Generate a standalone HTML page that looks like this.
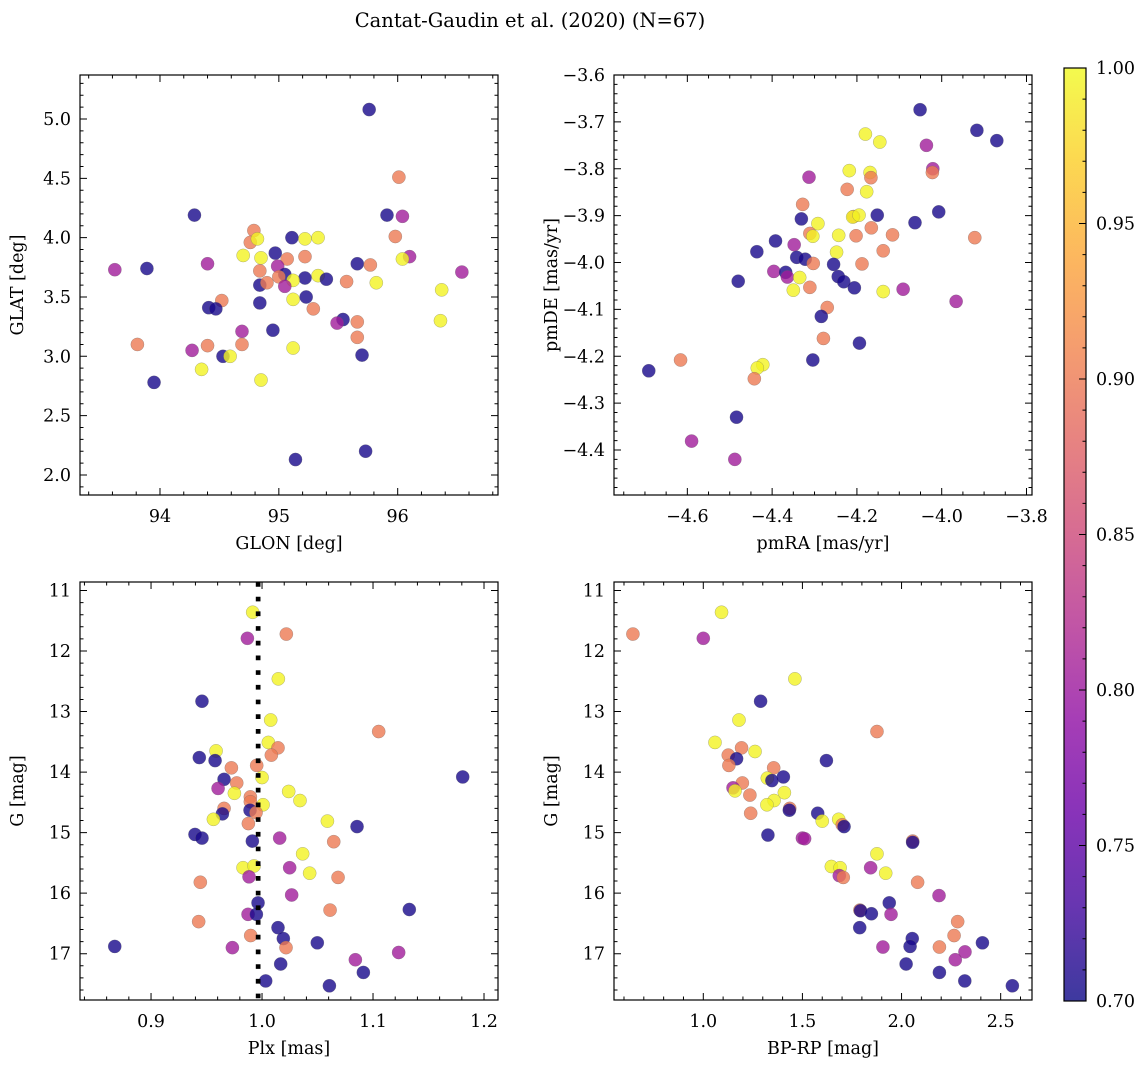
<!DOCTYPE html>
<html><head><meta charset="utf-8"><style>
html,body{margin:0;padding:0;background:#fff;}
svg text{font-family:"DejaVu Serif","Liberation Serif",serif;fill:#000;}
</style></head><body>
<svg id="fig" width="1148" height="1068" viewBox="0 0 1148 1068" xmlns="http://www.w3.org/2000/svg">
<rect width="1148" height="1068" fill="#fff"/>
<text x="530" y="27" font-size="19.5" text-anchor="middle">Cantat-Gaudin et al. (2020) (N=67)</text>
<defs>
<linearGradient id="plasmaGrad" x1="0" y1="1" x2="0" y2="0">
<stop offset="0" stop-color="#0d0887" stop-opacity="0.8"/><stop offset="0.1" stop-color="#41049d" stop-opacity="0.8"/>
<stop offset="0.2" stop-color="#6a00a8" stop-opacity="0.8"/><stop offset="0.3" stop-color="#8f0da4" stop-opacity="0.8"/>
<stop offset="0.4" stop-color="#b12a90" stop-opacity="0.8"/><stop offset="0.5" stop-color="#cc4778" stop-opacity="0.8"/>
<stop offset="0.6" stop-color="#e16462" stop-opacity="0.8"/><stop offset="0.7" stop-color="#f2844b" stop-opacity="0.8"/>
<stop offset="0.8" stop-color="#fca636" stop-opacity="0.8"/><stop offset="0.9" stop-color="#fcce25" stop-opacity="0.8"/>
<stop offset="1" stop-color="#f0f921" stop-opacity="0.8"/>
</linearGradient>
</defs>
</svg>
<script>
// ---- data ----
const glon=[95.76,96.01,94.29,95.91,96.04,94.79,95.11,95.22,95.33,95.98,94.76,94.82,94.97,94.70,94.85,95.07,95.22,96.10,96.04,94.40,94.84,94.99,95.66,95.77,93.62,93.89,96.54,95.05,95.33,95.00,95.22,95.40,94.84,94.90,95.12,95.05,95.57,95.82,96.37,95.23,95.12,94.52,94.41,94.47,94.84,95.29,95.54,95.49,95.66,96.36,95.66,94.69,94.95,93.81,94.40,94.69,94.27,94.53,94.59,95.12,95.70,94.35,93.95,94.85,95.73,95.14];
const glat=[5.08,4.51,4.19,4.19,4.18,4.06,4.00,3.99,4.00,4.01,3.96,3.99,3.87,3.85,3.83,3.82,3.84,3.84,3.82,3.78,3.72,3.76,3.78,3.77,3.73,3.74,3.71,3.69,3.68,3.67,3.66,3.65,3.60,3.62,3.64,3.59,3.63,3.62,3.56,3.50,3.48,3.47,3.41,3.40,3.45,3.40,3.31,3.28,3.29,3.30,3.16,3.21,3.22,3.10,3.09,3.10,3.05,3.00,3.00,3.07,3.01,2.89,2.78,2.80,2.20,2.13];
const probGal=[0.705,0.9,0.705,0.705,0.805,0.9,0.705,0.995,0.995,0.9,0.9,0.995,0.705,0.995,0.995,0.9,0.9,0.805,0.995,0.805,0.9,0.805,0.705,0.9,0.805,0.705,0.805,0.705,0.995,0.9,0.705,0.705,0.705,0.9,0.995,0.805,0.9,0.995,0.995,0.705,0.995,0.9,0.705,0.705,0.705,0.9,0.705,0.805,0.9,0.995,0.9,0.805,0.705,0.9,0.9,0.9,0.805,0.705,0.995,0.995,0.705,0.995,0.705,0.995,0.705,0.705];

const pmra=[-4.051,-3.917,-3.870,-4.180,-4.146,-4.036,-4.021,-4.022,-4.313,-4.218,-4.169,-4.167,-4.177,-4.223,-4.328,-4.331,-4.292,-4.152,-4.208,-4.210,-4.195,-4.063,-4.007,-3.922,-4.311,-4.304,-4.243,-4.202,-4.166,-4.116,-4.392,-4.436,-4.348,-4.248,-4.138,-4.342,-4.322,-4.303,-4.255,-4.188,-4.396,-4.368,-4.364,-4.335,-4.480,-4.350,-4.311,-4.244,-4.231,-4.206,-4.138,-4.091,-3.966,-4.270,-4.284,-4.279,-4.194,-4.304,-4.616,-4.691,-4.422,-4.435,-4.442,-4.484,-4.590,-4.488];
const pmde=[-3.674,-3.718,-3.740,-3.726,-3.743,-3.750,-3.800,-3.808,-3.818,-3.804,-3.808,-3.819,-3.849,-3.844,-3.876,-3.907,-3.917,-3.899,-3.902,-3.903,-3.899,-3.915,-3.892,-3.947,-3.938,-3.944,-3.942,-3.943,-3.926,-3.941,-3.954,-3.977,-3.962,-3.978,-3.975,-3.989,-3.993,-4.002,-4.004,-4.003,-4.019,-4.021,-4.031,-4.032,-4.040,-4.059,-4.053,-4.030,-4.041,-4.054,-4.062,-4.057,-4.083,-4.096,-4.115,-4.162,-4.172,-4.208,-4.208,-4.231,-4.218,-4.225,-4.248,-4.330,-4.381,-4.420];
const probPm=[0.705,0.705,0.705,0.995,0.995,0.805,0.805,0.9,0.805,0.995,0.995,0.9,0.995,0.9,0.9,0.705,0.995,0.705,0.9,0.995,0.995,0.705,0.705,0.9,0.9,0.995,0.995,0.9,0.9,0.9,0.705,0.705,0.805,0.995,0.9,0.705,0.705,0.9,0.705,0.9,0.805,0.705,0.805,0.995,0.705,0.995,0.9,0.705,0.705,0.705,0.995,0.805,0.805,0.9,0.705,0.9,0.705,0.705,0.9,0.705,0.995,0.995,0.9,0.705,0.805,0.805];

const plx=[0.9916,0.9868,1.0219,1.0147,0.9459,1.0078,1.1051,1.0057,1.0144,1.0084,0.9586,0.9435,0.9577,0.9724,0.9952,0.9658,1.0000,0.9772,1.1808,0.9604,0.9751,1.0240,1.0342,0.9895,0.9895,0.9658,0.9643,1.0009,0.9892,0.9946,0.9562,0.9877,1.0589,1.0856,0.9396,0.9459,0.9913,1.0159,1.0646,1.0366,0.9829,0.9928,0.9883,1.0249,1.0429,1.0685,0.9444,1.0267,0.9964,1.0613,1.1327,0.9874,0.9949,0.9429,1.0144,0.9898,1.0192,1.0498,1.0216,0.8673,0.9733,1.1231,1.0841,1.0168,1.0913,1.0033,1.0607];
const gPlx=[11.36,11.79,11.72,12.46,12.83,13.14,13.33,13.51,13.60,13.72,13.65,13.76,13.81,13.93,13.89,14.12,14.09,14.18,14.08,14.27,14.35,14.32,14.47,14.41,14.49,14.60,14.69,14.54,14.63,14.67,14.78,14.85,14.81,14.90,15.03,15.09,15.14,15.09,15.15,15.35,15.58,15.55,15.73,15.58,15.67,15.74,15.82,16.03,16.16,16.28,16.27,16.35,16.35,16.47,16.57,16.70,16.75,16.82,16.90,16.88,16.90,16.98,17.10,17.17,17.31,17.45,17.53];
const probPlx=[0.995,0.805,0.9,0.995,0.705,0.995,0.9,0.995,0.9,0.9,0.995,0.705,0.705,0.9,0.9,0.705,0.995,0.9,0.705,0.805,0.995,0.995,0.995,0.9,0.9,0.9,0.705,0.995,0.705,0.9,0.995,0.9,0.995,0.705,0.705,0.705,0.705,0.805,0.9,0.995,0.995,0.995,0.805,0.805,0.995,0.9,0.9,0.805,0.705,0.9,0.705,0.805,0.705,0.9,0.705,0.9,0.705,0.705,0.9,0.705,0.805,0.805,0.805,0.705,0.705,0.705,0.705];
const meanPlx=0.9965;

const bprp=[0.645,1.000,1.092,1.462,1.289,1.180,1.876,1.059,1.193,1.261,1.126,1.168,1.129,1.621,1.355,1.404,1.323,1.346,1.197,1.150,1.160,1.409,1.235,1.357,1.321,1.436,1.434,1.239,1.577,1.600,1.683,1.701,1.710,1.326,1.500,1.511,2.056,2.056,1.876,1.646,1.690,1.686,1.706,1.844,1.920,2.081,2.189,1.938,1.790,1.793,1.848,1.947,2.283,1.789,2.265,2.054,2.043,1.906,2.191,2.408,2.320,2.271,2.023,2.191,2.319,2.559];
const gCmd=[11.72,11.79,11.36,12.46,12.83,13.14,13.33,13.51,13.60,13.66,13.72,13.78,13.89,13.81,13.93,14.08,14.10,14.14,14.18,14.26,14.31,14.34,14.38,14.47,14.54,14.60,14.63,14.68,14.68,14.81,14.78,14.87,14.90,15.04,15.09,15.10,15.14,15.16,15.35,15.56,15.58,15.71,15.74,15.58,15.67,15.82,16.04,16.16,16.28,16.29,16.34,16.35,16.47,16.57,16.70,16.75,16.88,16.89,16.89,16.82,16.97,17.10,17.17,17.31,17.45,17.53];
const probCmd=[0.9,0.805,0.995,0.995,0.705,0.995,0.9,0.995,0.9,0.995,0.9,0.705,0.9,0.705,0.9,0.705,0.995,0.705,0.9,0.805,0.995,0.995,0.9,0.995,0.995,0.9,0.705,0.9,0.705,0.995,0.995,0.9,0.705,0.705,0.805,0.805,0.9,0.705,0.995,0.995,0.995,0.805,0.9,0.805,0.995,0.9,0.805,0.705,0.9,0.705,0.705,0.805,0.9,0.705,0.9,0.705,0.705,0.805,0.9,0.705,0.805,0.805,0.705,0.705,0.705,0.705];

const cbTicks=["0.70","0.75","0.80","0.85","0.90","0.95","1.00"];

// ---- helpers ----
const NS="http://www.w3.org/2000/svg";
const svg=document.getElementById('fig');
const FS=17.5;
function mk(tag,attrs,parent){const e=document.createElementNS(NS,tag);for(const k in attrs)e.setAttribute(k,attrs[k]);(parent||svg).appendChild(e);return e;}
const plasma=[[13,8,135],[65,4,157],[106,0,168],[143,13,164],[177,42,144],[204,71,120],[225,100,98],[242,132,75],[252,166,54],[252,206,37],[240,249,33]];
function cmap(v){let t=(v-0.7)/0.3;t=Math.max(0,Math.min(1,t));const f=t*10,i=Math.min(9,Math.floor(f)),r=f-i;const a=plasma[i],b=plasma[i+1];return `rgb(${Math.round(a[0]+(b[0]-a[0])*r)},${Math.round(a[1]+(b[1]-a[1])*r)},${Math.round(a[2]+(b[2]-a[2])*r)})`;}
function lin(d0,d1,r0,r1){return v=>r0+(v-d0)/(d1-d0)*(r1-r0);}

function panel(name,box,xd,yd,xs,ys,cs){
  const g=mk('g',{});
  
  
  const X=lin(xd[0],xd[1],box.x0,box.x1), Y=lin(yd[0],yd[1],box.y1,box.y0);
  const marks=mk('g',{},g);
  
  
  for(let i=0;i<xs.length;i++){
    const c=mk('circle',{cx:X(xs[i]),cy:Y(ys[i]),r:6.6,fill:cmap(cs[i]),'fill-opacity':0.8,stroke:'#666','stroke-opacity':0.5,'stroke-width':0.5},marks);
    
    
  }
  return {g,X,Y};
}
function axes(p,box,xt,xminor,yt,yminor,xlab,ylab,fmtX,fmtY){
  const g=p.g;
  const fr=mk('rect',{x:box.x0,y:box.y0,width:box.x1-box.x0,height:box.y1-box.y0,fill:'none',stroke:'#000','stroke-width':1.2},g);
  
  
  let d='';
  xminor.forEach(v=>{const x=p.X(v);d+=`M${x} ${box.y1}v-3.5M${x} ${box.y0}v3.5`;});
  yminor.forEach(v=>{const y=p.Y(v);d+=`M${box.x0} ${y}h3.5M${box.x1} ${y}h-3.5`;});
  xt.forEach(v=>{const x=p.X(v);d+=`M${x} ${box.y1}v-7M${x} ${box.y0}v7`;});
  yt.forEach(v=>{const y=p.Y(v);d+=`M${box.x0} ${y}h7M${box.x1} ${y}h-7`;});
  const tk=mk('path',{d:d,stroke:'#000','stroke-width':1,fill:'none'},g);
  
  
  xt.forEach(v=>{const t=mk('text',{x:p.X(v),y:box.y1+27,'font-size':FS,'text-anchor':'middle'},g);t.textContent=fmtX(v);
    
    });
  yt.forEach(v=>{const t=mk('text',{x:box.x0-9,y:p.Y(v)+6,'font-size':FS,'text-anchor':'end'},g);t.textContent=fmtY(v);
    
    });
  const xl=mk('text',{x:(box.x0+box.x1)/2,y:box.y1+54,'font-size':FS,'text-anchor':'middle'},g);xl.textContent=xlab;
  
  
  const yc=(box.y0+box.y1)/2, yx=box.x0-57;
  const yl=mk('text',{x:yx,y:yc,'font-size':FS,'text-anchor':'middle',transform:`rotate(-90 ${yx} ${yc})`},g);yl.textContent=ylab;
  
  
}
function range(a,b,s){const r=[];for(let v=a;v<=b+1e-9;v+=s)r.push(+v.toFixed(6));return r;}
const minus=s=>s.replace('-','\u2212');

// Panel 1
let b1={x0:80,x1:498,y0:75,y1:495};
let p1=panel('galactic-panel',b1,[93.327,96.844],[1.831,5.371],glon,glat,probGal);
axes(p1,b1,[94,95,96],range(93.4,96.8,0.2),[2,2.5,3,3.5,4,4.5,5],range(1.9,5.3,0.1),'GLON [deg]','GLAT [deg]',v=>String(v),v=>v.toFixed(1));
// Panel 2
let b2={x0:614,x1:1032,y0:75,y1:495};
let p2=panel('proper-motion-panel',b2,[-4.773,-3.787],[-4.496,-3.600],pmra,pmde,probPm);
axes(p2,b2,[-4.6,-4.4,-4.2,-4.0,-3.8],range(-4.75,-3.8,0.05),[-4.4,-4.3,-4.2,-4.1,-4.0,-3.9,-3.8,-3.7,-3.6],range(-4.48,-3.6,0.02),'pmRA [mas/yr]','pmDE [mas/yr]',v=>minus(v.toFixed(1)),v=>minus(v.toFixed(1)));
// Panel 3
let b3={x0:80,x1:498,y0:582,y1:1000};
let p3=panel('parallax-panel',b3,[0.836,1.2126],[17.765,10.860],plx,gPlx,probPlx);
{const x=p3.X(meanPlx);const ln=mk('line',{x1:x,x2:x,y1:b3.y0,y2:b3.y1,stroke:'#000','stroke-width':4.7,'stroke-dasharray':'4.7 10'},p3.g);

}
axes(p3,b3,[0.9,1.0,1.1,1.2],range(0.84,1.2,0.02),[11,12,13,14,15,16,17],range(11,17.6,0.2),'Plx [mas]','G [mag]',v=>v.toFixed(1),v=>String(v));
// Panel 4
let b4={x0:614,x1:1032,y0:582,y1:1000};
let p4=panel('cmd-panel',b4,[0.5496,2.658],[17.765,10.860],bprp,gCmd,probCmd);
axes(p4,b4,[1.0,1.5,2.0,2.5],range(0.6,2.6,0.1),[11,12,13,14,15,16,17],range(11,17.6,0.2),'BP-RP [mag]','G [mag]',v=>v.toFixed(1),v=>String(v));

// Colorbar
const cb={x0:1064,x1:1086,y0:68,y1:1001};
const cbg=mk('g',{});


mk('rect',{x:cb.x0,y:cb.y0,width:cb.x1-cb.x0,height:cb.y1-cb.y0,fill:'url(#plasmaGrad)',stroke:'#000','stroke-width':1.2},cbg);
const CY=lin(0.7,1.0,cb.y1,cb.y0);
let cd='';
range(0.70,1.0,0.01).forEach(v=>{cd+=`M${cb.x1} ${CY(v)}h-3.5`;});
cbTicks.forEach(s=>{cd+=`M${cb.x1} ${CY(+s)}h-7`;
  const t=mk('text',{x:cb.x1+10,y:CY(+s)+6,'font-size':FS},cbg);t.textContent=s;
  
  });
mk('path',{d:cd,stroke:'#000','stroke-width':1},cbg);
</script>
</body></html>
